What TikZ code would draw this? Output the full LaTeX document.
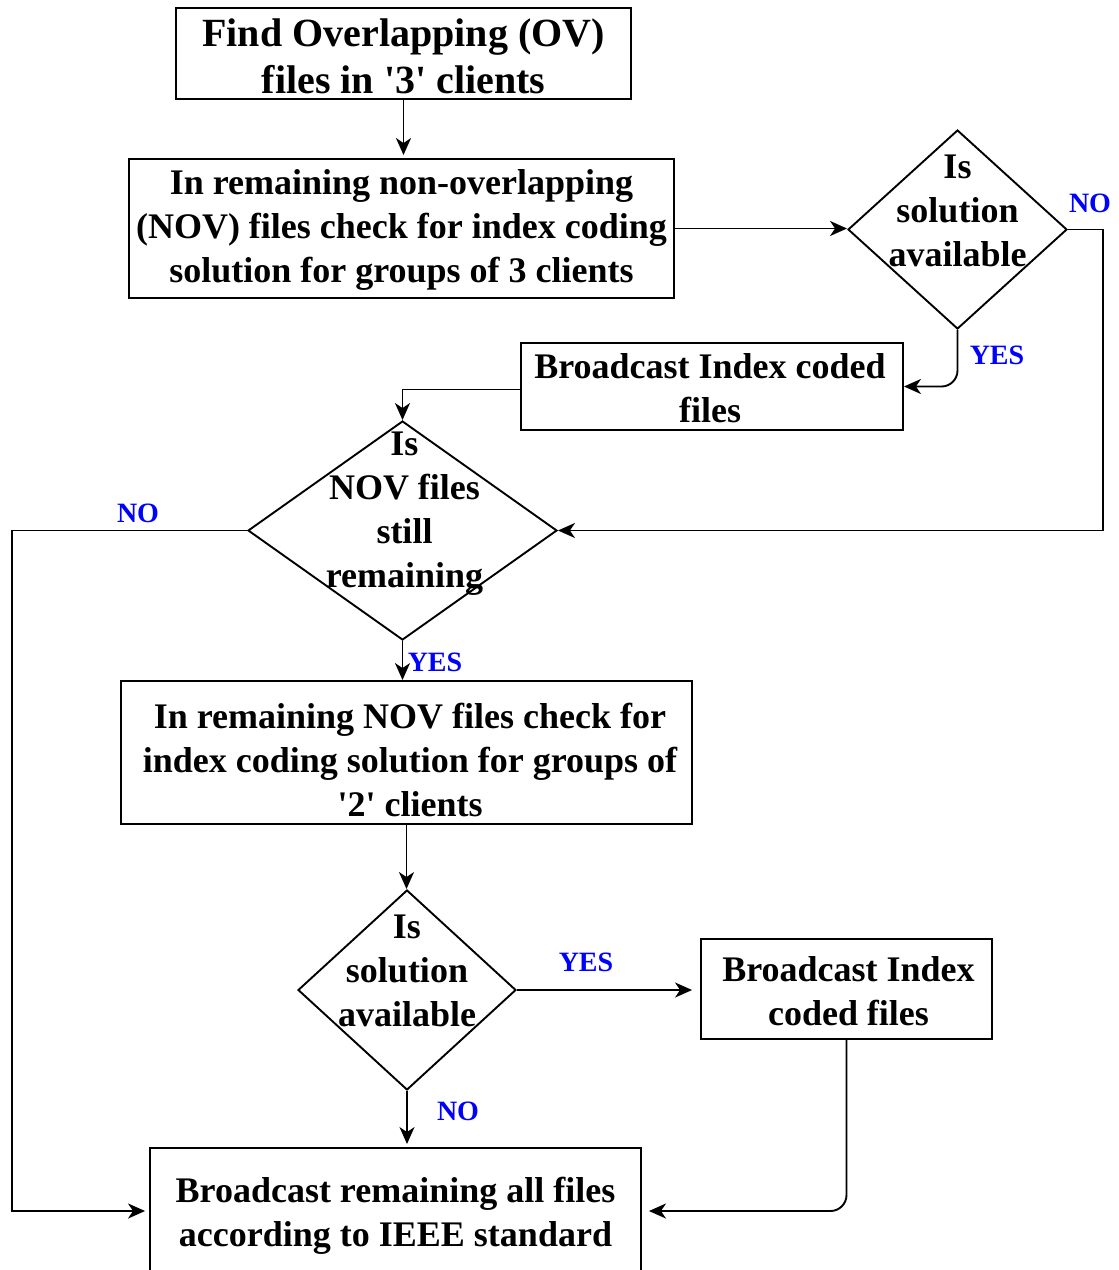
\documentclass[tikz,border=0pt]{standalone}
\usepackage{fontspec}
\setmainfont{Liberation Serif}
\usetikzlibrary{arrows.meta,shapes.geometric}
\definecolor{lblue}{RGB}{0,0,255}
\tikzset{
  box/.style={draw, line width=1.9pt, inner sep=0pt},
  boxtext/.style={inner sep=0pt, align=center, font=\fontsize{36}{44}\selectfont\bfseries},
  dia/.style={draw, line width=1.9pt, shape=diamond, inner sep=0pt},
  lbl/.style={inner sep=0pt, text=lblue, font=\fontsize{28}{32}\selectfont\bfseries},
  conn/.style={line width=1.9pt},
  arr/.style={conn, -{Stealth[length=17pt, width=15pt, inset=5pt]}}
}
\begin{document}
\begin{tikzpicture}[x=1pt,y=-1pt]
\useasboundingbox (0,0) rectangle (1119,1270);
\clip (0,0) rectangle (1119,1270);
% boxes
\node[box, minimum width=455pt, minimum height=91pt] (b1) at (403.5,53.5) {};
\node[boxtext, font=\fontsize{40}{47}\selectfont\bfseries] (b1t) at (403.5,56.5)
  {Find Overlapping (OV)\\files in \textquotesingle 3\textquotesingle{} clients};
\node[box, minimum width=545pt, minimum height=139pt] (b2) at (401.5,228.5) {};
\node[boxtext] (b2t) at (401.5,229.5)
  {In remaining non-overlapping\\(NOV) files check for index coding\\solution for groups of 3 clients};
\node[box, minimum width=382pt, minimum height=87pt] (b3) at (712,386.5) {};
\node[boxtext] (b3t) at (710,388.5) {Broadcast Index coded\\files};
\node[box, minimum width=571pt, minimum height=143pt] (b4) at (406.5,752.5) {};
\node[boxtext] (b4t) at (410,759.5)
  {In remaining NOV files check for\\index coding solution for groups of\\\textquotesingle 2\textquotesingle{} clients};
\node[box, minimum width=491pt, minimum height=126pt] (b5) at (395.5,1211) {};
\node[boxtext] (b5t) at (395.5,1215.5)
  {Broadcast remaining all files\\according to IEEE standard};
\node[box, minimum width=291pt, minimum height=100pt] (b6) at (846.5,989) {};
\node[boxtext] (b6t) at (848.5,991) {Broadcast Index\\coded files};
% diamonds
\node[dia, minimum width=219pt, minimum height=199pt] (d1) at (957.5,229.5) {};
\node[boxtext] (d1t) at (957.5,211) {Is\\solution\\available};
\node[dia, minimum width=309pt, minimum height=219pt] (d2) at (402.5,530.5) {};
\node[boxtext] (d2t) at (404.5,513.5) {Is\\NOV files\\still\\remaining};
\node[dia, minimum width=218pt, minimum height=200pt] (d3) at (407,990) {};
\node[boxtext] (d3t) at (407,971) {Is\\solution\\available};
% labels
\node[lbl] (l1) at (1090,203) {NO};
\node[lbl] (l2) at (997,355) {YES};
\node[lbl] (l3) at (138,513) {NO};
\node[lbl] (l4) at (435,662) {YES};
\node[lbl] (l5) at (586,962) {YES};
\node[lbl] (l6) at (458,1111) {NO};
% helper coordinates
\coordinate (rx) at (1103,0);
\coordinate (lx) at (12,0);
% connectors
\draw[arr, shorten >=3pt] (b1.south) -- (b1.south |- b2.north);
\draw[arr] (b2.east) -- (b2.east -| d1.west);
\draw[arr] (d1.east) -- (d1.east -| rx) |- (d2.east);
\draw[arr, rounded corners=16pt] (d1.south) |- (b3.east);
\draw[arr] ([yshift=-3pt]b3.west) -| (d2.north);
\draw[arr, shorten >=4pt] (d2.west) -- (d2.west -| lx) |- (b5.west);
\draw[arr] (d2.south) -- (d2.south |- b4.north);
\draw[arr] (b4.south) -- (b4.south |- d3.north);
\draw[arr, shorten >=8pt] (d3.east) -- (d3.east -| b6.west);
\draw[arr, shorten >=7pt, rounded corners=16pt] (b6.south) |- (b5.east);
\draw[arr, shorten >=3pt] (d3.south) -- (d3.south |- b5.north);
\end{tikzpicture}
\end{document}
